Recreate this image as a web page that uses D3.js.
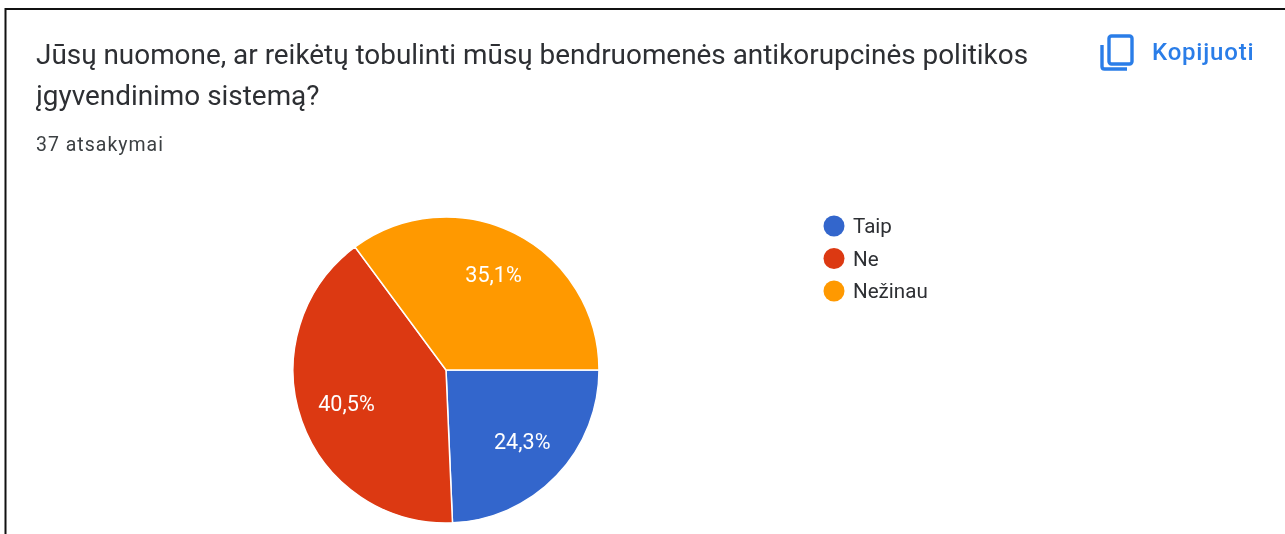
<!DOCTYPE html>
<html>
<head>
<meta charset="utf-8">
<script src="https://cdn.jsdelivr.net/npm/d3@7"></script>
<style>
    html, body { margin: 0; padding: 0; background: #fff; overflow: hidden; }
    text { font-family: Roboto, sans-serif; }
    svg { filter: blur(0.4px); }
</style>
</head>
<body>
<svg id="pastel"></svg>
<script>
const categorias = ['Taip', 'Ne', 'Nežinau'];
const porcentajes = [24.3, 40.5, 35.1];
const etiquetas = ['24,3%', '40,5%', '35,1%'];
const colores = ['#3366cc', '#dc3912', '#ff9900'];
const titulo = [
    'Jūsų nuomone, ar reikėtų tobulinti mūsų bendruomenės antikorupcinės politikos',
    'įgyvendinimo sistemą?'
];
const subtitulo = '37 atsakymai';
const copiar = 'Kopijuoti';

const ancho = 1285;
const alto = 534;

const svg = d3.select('#pastel').attr('width', ancho).attr('height', alto).style('display', 'block');

// marco negro de la captura
svg.append('path')
    .attr('d', 'M5.5,534V9H1285')
    .attr('fill', 'none')
    .attr('stroke', '#111')
    .attr('stroke-width', 2);

svg.selectAll('.titulo')
    .data(titulo).enter()
    .append('text')
    .attr('class', 'titulo')
    .attr('x', 36)
    .attr('y', function (d, i) { return 64 + i * 41; })
    .style('font-size', '27.9px')
    .style('fill', '#2d2f33')
    .text(function (d) { return d; });

svg.append('text')
    .attr('x', 36)
    .attr('y', 151)
    .style('font-size', '19.5px')
    .style('letter-spacing', '1px')
    .style('fill', '#3c4043')
    .text(subtitulo);

// icono de copiar
const icono = svg.append('g').attr('fill', 'none').attr('stroke', '#2a7de8').attr('stroke-width', 3.4);
icono.append('rect').attr('x', 1109).attr('y', 36).attr('width', 23).attr('height', 28).attr('rx', 2.5);
icono.append('path').attr('d', 'M1102,45V66.5Q1102,69 1104.5,69H1127');

svg.append('text')
    .attr('x', 1152)
    .attr('y', 60)
    .style('font-size', '24px')
    .style('font-weight', 500)
    .style('letter-spacing', '0.8px')
    .style('fill', '#2a7de8')
    .text(copiar);

// pastel
const radio = 153;
const pastel = d3.pie().sort(null).startAngle(Math.PI / 2).endAngle(Math.PI * 2.5);
const arco = d3.arc().innerRadius(0).outerRadius(radio);
const arcoTexto = d3.arc().innerRadius(radio * 0.69).outerRadius(radio * 0.69);

const grupo = svg.append('g').attr('transform', 'translate(446,370)');

grupo.selectAll('path')
    .data(pastel(porcentajes)).enter()
    .append('path')
    .attr('d', arco)
    .attr('fill', function (d, i) { return colores[i]; })
    .attr('stroke', '#fff')
    .attr('stroke-width', 1.5);

grupo.selectAll('text')
    .data(pastel(porcentajes)).enter()
    .append('text')
    .attr('transform', function (d) { return 'translate(' + arcoTexto.centroid(d) + ')'; })
    .attr('text-anchor', 'middle')
    .attr('dy', '0.27em')
    .style('font-size', '21.6px')
    .style('fill', '#fff')
    .text(function (d, i) { return etiquetas[i]; });

// leyenda
const escalaLeyenda = d3.scalePoint().domain(categorias).range([226, 291]);

svg.selectAll('circle.leyenda')
    .data(categorias).enter()
    .append('circle')
    .attr('class', 'leyenda')
    .attr('cx', 834)
    .attr('cy', function (d) { return escalaLeyenda(d); })
    .attr('r', 10.5)
    .attr('fill', function (d, i) { return colores[i]; });

svg.selectAll('text.leyenda')
    .data(categorias).enter()
    .append('text')
    .attr('class', 'leyenda')
    .attr('x', 853)
    .attr('y', function (d) { return escalaLeyenda(d); })
    .attr('dy', '0.36em')
    .style('font-size', '20.6px')
    .style('fill', '#2d2f33')
    .text(function (d) { return d; });
</script>
</body>
</html>
